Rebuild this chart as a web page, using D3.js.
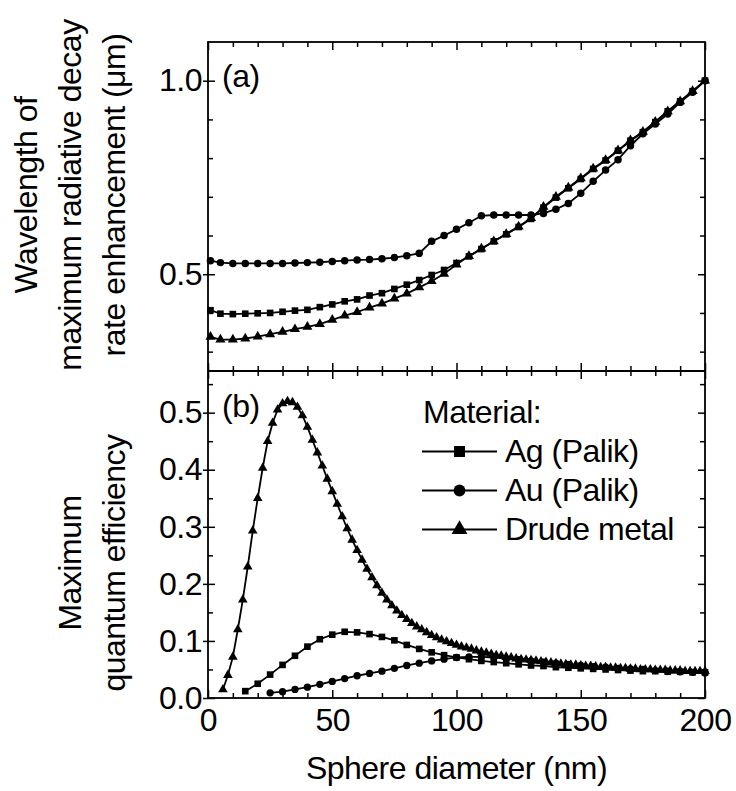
<!DOCTYPE html>
<html>
<head>
<meta charset="utf-8">
<script src="https://cdn.jsdelivr.net/npm/d3@7"></script>
<style>
  body { margin: 0; background: #fff; }
  svg { font-family: "Liberation Sans", Arial, sans-serif; }
  svg text { letter-spacing: -0.5px; }
</style>
</head>
<body>
<svg id="chart" width="736" height="791"></svg>
<script>
// sphere diameters (nm), panel (a): every 5 nm
const diamTop = [1, 5, 10, 15, 20, 25, 30, 35, 40, 45, 50, 55, 60, 65, 70, 75, 80, 85, 90, 95,
  100, 105, 110, 115, 120, 125, 130, 135, 140, 145, 150, 155, 160, 165, 170, 175, 180, 185, 190, 195, 200];

// wavelength of max radiative decay rate enhancement (um)
const agTop = [0.407, 0.398, 0.397, 0.398, 0.399, 0.400, 0.403, 0.406, 0.408, 0.415, 0.422, 0.430, 0.435, 0.445,
  0.451, 0.462, 0.473, 0.485, 0.498, 0.511, 0.529, 0.546, 0.565, 0.585, 0.603, 0.622, 0.643, 0.672, 0.698,
  0.722, 0.746, 0.772, 0.794, 0.819, 0.845, 0.867, 0.893, 0.921, 0.947, 0.973, 1.000];
const auTop = [0.535, 0.530, 0.528, 0.528, 0.528, 0.528, 0.528, 0.529, 0.530, 0.531, 0.533, 0.535, 0.537, 0.538,
  0.540, 0.543, 0.548, 0.554, 0.585, 0.600, 0.616, 0.633, 0.651, 0.653, 0.653, 0.653, 0.653, 0.657, 0.668,
  0.683, 0.709, 0.740, 0.769, 0.796, 0.832, 0.863, 0.888, 0.914, 0.944, 0.970, 1.000];
const drudeTop = [0.338, 0.331, 0.331, 0.334, 0.339, 0.345, 0.351, 0.358, 0.364, 0.371, 0.382, 0.393, 0.402, 0.414,
  0.424, 0.437, 0.450, 0.466, 0.482, 0.501, 0.525, 0.547, 0.566, 0.585, 0.604, 0.623, 0.645, 0.674, 0.700,
  0.724, 0.748, 0.773, 0.795, 0.820, 0.846, 0.868, 0.894, 0.921, 0.947, 0.973, 1.000];

// panel (b): maximum quantum efficiency
const diamAg = [15, 20, 25, 30, 35, 40, 45, 50, 55, 60, 65, 70, 75, 80, 85, 90, 95, 100, 105, 110,
  115, 120, 125, 130, 135, 140, 145, 150, 155, 160, 165, 170, 175, 180, 185, 190, 195, 200];
const agQE = [0.012, 0.025, 0.041, 0.058, 0.074, 0.090, 0.103, 0.111, 0.116, 0.115, 0.112, 0.107, 0.101, 0.093,
  0.086, 0.080, 0.075, 0.071, 0.068, 0.065, 0.063, 0.061, 0.059, 0.057, 0.056, 0.054, 0.053, 0.052, 0.051,
  0.050, 0.049, 0.048, 0.047, 0.047, 0.046, 0.046, 0.045, 0.045];

const diamAu = [25, 30, 35, 40, 45, 50, 55, 60, 65, 70, 75, 80, 85, 90, 95, 100, 105, 110,
  115, 120, 125, 130, 135, 140, 145, 150, 155, 160, 165, 170, 175, 180, 185, 190, 195, 200];
const auQE = [0.009, 0.011, 0.015, 0.019, 0.024, 0.029, 0.034, 0.039, 0.043, 0.047, 0.052, 0.057, 0.061, 0.065,
  0.068, 0.071, 0.072, 0.072, 0.071, 0.069, 0.067, 0.065, 0.063, 0.061, 0.059, 0.057, 0.055, 0.054, 0.052,
  0.051, 0.050, 0.048, 0.047, 0.046, 0.045, 0.044];

const diamDrude = [6, 8, 10, 12, 14, 16, 18, 20, 22, 24, 26, 28, 30, 32, 34, 36, 38, 40, 42, 44, 46, 48, 50,
  52, 54, 56, 58, 60, 62, 64, 66, 68, 70, 72, 74, 76, 78, 80, 82, 84, 86, 88, 90, 92, 94, 96, 98, 100,
  102, 104, 106, 108, 110, 112, 114, 116, 118, 120, 122, 124, 126, 128, 130, 132, 134, 136, 138, 140,
  142, 144, 146, 148, 150, 152, 154, 156, 158, 160, 162, 164, 166, 168, 170, 172, 174, 176, 178, 180,
  182, 184, 186, 188, 190, 192, 194, 196, 198, 200];
const drudeQE = [0.015, 0.040, 0.072, 0.120, 0.172, 0.230, 0.293, 0.350, 0.403, 0.450, 0.482, 0.505, 0.516, 0.520,
  0.518, 0.510, 0.495, 0.475, 0.452, 0.430, 0.407, 0.384, 0.362, 0.340, 0.318, 0.297, 0.277, 0.259, 0.242,
  0.226, 0.211, 0.197, 0.184, 0.172, 0.162, 0.153, 0.145, 0.138, 0.131, 0.125, 0.120, 0.115, 0.110, 0.106,
  0.102, 0.099, 0.096, 0.093, 0.090, 0.088, 0.086, 0.083, 0.081, 0.079, 0.077, 0.075, 0.074, 0.072, 0.071,
  0.069, 0.068, 0.067, 0.066, 0.065, 0.064, 0.063, 0.062, 0.061, 0.060, 0.059, 0.058, 0.058, 0.057, 0.056,
  0.056, 0.055, 0.054, 0.054, 0.053, 0.053, 0.052, 0.052, 0.051, 0.051, 0.050, 0.050, 0.050, 0.049, 0.049,
  0.049, 0.048, 0.048, 0.048, 0.047, 0.047, 0.047, 0.047, 0.047];

const xMajor = [0, 50, 100, 150, 200];
const xMinor = [10, 20, 30, 40, 60, 70, 80, 90, 110, 120, 130, 140, 160, 170, 180, 190];
const yTopMajor = [0.5, 1.0];
const yTopMinor = [0.3, 0.4, 0.6, 0.7, 0.8, 0.9];
const yBotMajor = [0.0, 0.1, 0.2, 0.3, 0.4, 0.5];
const yBotMinor = [0.05, 0.15, 0.25, 0.35, 0.45, 0.55];

const legendNames = ["Ag (Palik)", "Au (Palik)", "Drude metal"];

const L = 208, R = 705, T = 42, M = 371, B = 698;
const FS = 32;

const svg = d3.select("#chart");

const x = d3.scaleLinear().domain([0, 200]).range([L, R]);
const yA = d3.scaleLinear().domain([0.25, 1.1]).range([M, T]);
const yB = d3.scaleLinear().domain([0, 0.573]).range([B, M]);

const symSquare = d3.symbol().type(d3.symbolSquare);
const symCircle = d3.symbol().type(d3.symbolCircle);
const symTri = d3.symbol().type(d3.symbolTriangle);

function styleAxis(g) {
  g.select(".domain").remove();
  g.selectAll("line").attr("stroke", "#000").attr("stroke-width", 1.5);
  g.selectAll("text").attr("font-size", FS).attr("fill", "#000")
    .attr("font-family", "'Liberation Sans', Arial, sans-serif");
}

function panelAxes(y, yMajor, yMinor, top, bottom, labelsY, labelFmt, labelsX) {
  // left
  svg.append("g").attr("transform", `translate(${L},0)`)
    .call(d3.axisLeft(y).tickValues(yMajor).tickSizeInner(-7).tickSizeOuter(0)
      .tickPadding(6).tickFormat(labelsY ? labelFmt : ""))
    .call(styleAxis);
  svg.append("g").attr("transform", `translate(${L},0)`)
    .call(d3.axisLeft(y).tickValues(yMajor).tickSize(5).tickFormat(""))
    .call(styleAxis);
  svg.append("g").attr("transform", `translate(${L},0)`)
    .call(d3.axisLeft(y).tickValues(yMinor).tickSize(-5).tickFormat(""))
    .call(styleAxis);
  // right
  svg.append("g").attr("transform", `translate(${R},0)`)
    .call(d3.axisRight(y).tickValues(yMajor).tickSize(-7).tickFormat(""))
    .call(styleAxis);
  svg.append("g").attr("transform", `translate(${R},0)`)
    .call(d3.axisRight(y).tickValues(yMinor).tickSize(-5).tickFormat(""))
    .call(styleAxis);
  // top
  svg.append("g").attr("transform", `translate(0,${top})`)
    .call(d3.axisTop(x).tickValues(xMajor).tickSize(-8).tickFormat(""))
    .call(styleAxis);
  svg.append("g").attr("transform", `translate(0,${top})`)
    .call(d3.axisTop(x).tickValues(xMinor).tickSize(-5).tickFormat(""))
    .call(styleAxis);
  // bottom
  svg.append("g").attr("transform", `translate(0,${bottom})`)
    .call(d3.axisBottom(x).tickValues(xMajor).tickSizeInner(-8).tickSizeOuter(0)
      .tickPadding(10).tickFormat(labelsX ? d3.format("d") : ""))
    .call(styleAxis);
  svg.append("g").attr("transform", `translate(0,${bottom})`)
    .call(d3.axisBottom(x).tickValues(xMinor).tickSize(-5).tickFormat(""))
    .call(styleAxis);
}

panelAxes(yA, yTopMajor, yTopMinor, T, M, true, d3.format(".1f"), false);
panelAxes(yB, yBotMajor, yBotMinor, M, B, true, d3.format(".1f"), true);

// frames
svg.append("rect").attr("x", L).attr("y", T).attr("width", R - L).attr("height", B - T)
  .attr("fill", "none").attr("stroke", "#000").attr("stroke-width", 1.8);
svg.append("line").attr("x1", L).attr("x2", R).attr("y1", M).attr("y2", M)
  .attr("stroke", "#000").attr("stroke-width", 1.8);

function series(xs, ys, y, sym, size) {
  const pts = xs.map((d, i) => [d, ys[i]]);
  const line = d3.line().x(d => x(d[0])).y(d => y(d[1]));
  svg.append("path").datum(pts).attr("d", line)
    .attr("fill", "none").attr("stroke", "#000").attr("stroke-width", 1.8);
  svg.append("g").selectAll("path").data(pts).enter().append("path")
    .attr("transform", d => `translate(${x(d[0])},${y(d[1])})`)
    .attr("d", sym.size(size)())
    .attr("fill", "#000");
}

series(diamTop, agTop, yA, symSquare, 44);
series(diamTop, auTop, yA, symCircle, 44);
series(diamTop, drudeTop, yA, symTri, 44);

series(diamAg, agQE, yB, symSquare, 44);
series(diamAu, auQE, yB, symCircle, 42);
series(diamDrude, drudeQE, yB, symTri, 40);

// panel labels
svg.append("text").attr("x", 222).attr("y", 87).attr("font-size", FS).text("(a)");
svg.append("text").attr("x", 222).attr("y", 417).attr("font-size", FS).text("(b)");

// legend
svg.append("text").attr("x", 423).attr("y", 423).attr("font-size", FS).text("Material:");
const legSyms = [symSquare, symCircle, symTri];
const legSizes = [120, 110, 110];
legendNames.forEach((name, i) => {
  const by = 462 + i * 39;
  const cy = by - 10.5;
  svg.append("line").attr("x1", 422).attr("x2", 497).attr("y1", cy).attr("y2", cy)
    .attr("stroke", "#000").attr("stroke-width", 1.8);
  svg.append("path").attr("transform", `translate(459.5,${cy})`)
    .attr("d", legSyms[i].size(legSizes[i])()).attr("fill", "#000");
  svg.append("text").attr("x", 505).attr("y", by).attr("font-size", FS).text(name);
});

// axis titles
function vTitle(lines, baselines, cy) {
  lines.forEach((t, i) => {
    svg.append("text").attr("transform", "rotate(-90)")
      .attr("x", -cy).attr("y", baselines[i])
      .attr("text-anchor", "middle").attr("font-size", FS).text(t);
  });
}
vTitle(["Wavelength of", "maximum radiative decay", "rate enhancement (\u03bcm)"], [37, 81, 125], 195);
vTitle(["Maximum", "quantum efficiency"], [81, 125], 563);

svg.append("text").attr("x", (L + R) / 2).attr("y", 779).attr("text-anchor", "middle")
  .attr("font-size", FS).text("Sphere diameter (nm)");
</script>
</body>
</html>
